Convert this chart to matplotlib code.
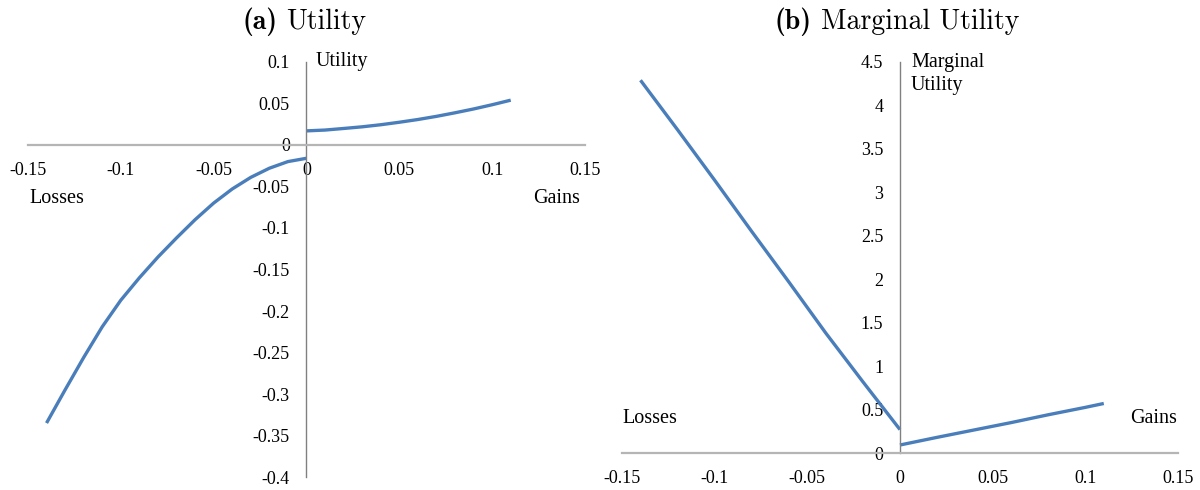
import matplotlib
matplotlib.use("Agg")
import matplotlib.pyplot as plt

plt.rcParams.update({"font.family": "Liberation Serif",
                     "figure.facecolor": "white", "axes.facecolor": "white"})

# (a) utility
loss_x = [-0.14, -0.13, -0.12, -0.11, -0.10, -0.09, -0.08, -0.07, -0.06, -0.05,
          -0.04, -0.03, -0.02, -0.01, 0.0]
loss_u = [-0.335, -0.295, -0.256, -0.219, -0.187, -0.160, -0.135, -0.112, -0.090, -0.070,
          -0.053, -0.039, -0.028, -0.020, -0.016]
gain_x = [0.0, 0.01, 0.02, 0.03, 0.04, 0.05, 0.06, 0.07, 0.08, 0.09, 0.10, 0.11]
gain_u = [0.0170, 0.0180, 0.0199, 0.0219, 0.0244, 0.0274, 0.0307, 0.0345, 0.0388, 0.0434,
          0.0485, 0.0540]

# (b) marginal utility
mu_loss_x = [-0.14, -0.12, -0.10, -0.08, -0.06, -0.04, -0.02, 0.0]
mu_loss = [4.29, 3.72, 3.14, 2.55, 1.97, 1.38, 0.82, 0.27]
mu_gain_x = [0.0, 0.02, 0.04, 0.06, 0.08, 0.10, 0.11]
mu_gain = [0.092, 0.18, 0.265, 0.35, 0.44, 0.525, 0.57]

x_ticks = [-0.15, -0.1, -0.05, 0, 0.05, 0.1, 0.15]
x_labels = ["-0.15", "-0.1", "-0.05", "0", "0.05", "0.1", "0.15"]
ya_ticks = [0.1, 0.05, 0, -0.05, -0.1, -0.15, -0.2, -0.25, -0.3, -0.35, -0.4]
ya_labels = ["0.1", "0.05", "0", "-0.05", "-0.1", "-0.15", "-0.2", "-0.25", "-0.3", "-0.35", "-0.4"]
yb_ticks = [0, 0.5, 1, 1.5, 2, 2.5, 3, 3.5, 4, 4.5]
yb_labels = ["0", "0.5", "1", "1.5", "2", "2.5", "3", "3.5", "4", "4.5"]

BLUE = "#4a7ebb"
TICK_FS = 13
LABEL_FS = 14.5
LW = 2.4

fig = plt.figure(figsize=(12, 4.9), dpi=100)
ax_a = fig.add_axes([0.0233, 0.0265, 0.4642, 0.847])
ax_b = fig.add_axes([0.5183, 0.0755, 0.4633, 0.798])


def style_axes(ax, yticks, ylabels, ylim):
    ax.set_xlim(-0.15, 0.15)
    ax.set_ylim(*ylim)
    ax.spines["top"].set_visible(False)
    ax.spines["right"].set_visible(False)
    ax.spines["left"].set_position(("data", 0))
    ax.spines["bottom"].set_position(("data", 0))
    ax.spines["left"].set_color("#808080")
    ax.spines["left"].set_linewidth(1.0)
    ax.spines["bottom"].set_color("#b5b5b5")
    ax.spines["bottom"].set_linewidth(1.6)
    ax.set_xticks(x_ticks)
    ax.set_xticklabels(x_labels)
    ax.set_yticks(yticks)
    ax.set_yticklabels(ylabels)
    ax.tick_params(axis="x", length=0, pad=12, labelsize=TICK_FS)
    ax.tick_params(axis="y", length=0, pad=12, labelsize=TICK_FS)


def curve(ax, x, y):
    ax.plot(x, y, color=BLUE, lw=LW, solid_capstyle="butt", solid_joinstyle="round")


style_axes(ax_a, ya_ticks, ya_labels, (-0.4, 0.1))
curve(ax_a, loss_x, loss_u)
curve(ax_a, gain_x, gain_u)
ax_a.text(0.517, 1.0, "Utility", transform=ax_a.transAxes, fontsize=LABEL_FS, va="center", ha="left")
ax_a.text(0.002, 0.670, "Losses", transform=ax_a.transAxes, fontsize=LABEL_FS, va="center", ha="left")
ax_a.text(0.907, 0.670, "Gains", transform=ax_a.transAxes, fontsize=LABEL_FS, va="center", ha="left")

style_axes(ax_b, yb_ticks, yb_labels, (0, 4.5))
curve(ax_b, mu_loss_x, mu_loss)
curve(ax_b, mu_gain_x, mu_gain)
ax_b.text(0.52, 0.969, "Marginal\nUtility", transform=ax_b.transAxes, fontsize=LABEL_FS,
          va="center", ha="left", linespacing=1.25)
ax_b.text(0.0, 0.0895, "Losses", transform=ax_b.transAxes, fontsize=LABEL_FS, va="center", ha="left")
ax_b.text(0.914, 0.0895, "Gains", transform=ax_b.transAxes, fontsize=LABEL_FS, va="center", ha="left")

# panel titles: bold "(a)" + roman word, centred over each y axis
renderer = fig.canvas.get_renderer()
TITLE_FS = 20
title_y = 1 - 22 / 490
for cx, tag, word in [(304 / 1200, "(a)", "Utility"), (897 / 1200, "(b)", "Marginal Utility")]:
    t1 = fig.text(0, title_y, tag, family="cmb10", fontsize=TITLE_FS, ha="left", va="center")
    t2 = fig.text(0, title_y, word, family="cmr10", fontsize=TITLE_FS, ha="left", va="center")
    w1 = t1.get_window_extent(renderer).width / fig.bbox.width
    w2 = t2.get_window_extent(renderer).width / fig.bbox.width
    gap = 9 / 1200
    x0 = cx - (w1 + gap + w2) / 2
    t1.set_x(x0)
    t2.set_x(x0 + w1 + gap)

fig.savefig("out.png", dpi=100)
